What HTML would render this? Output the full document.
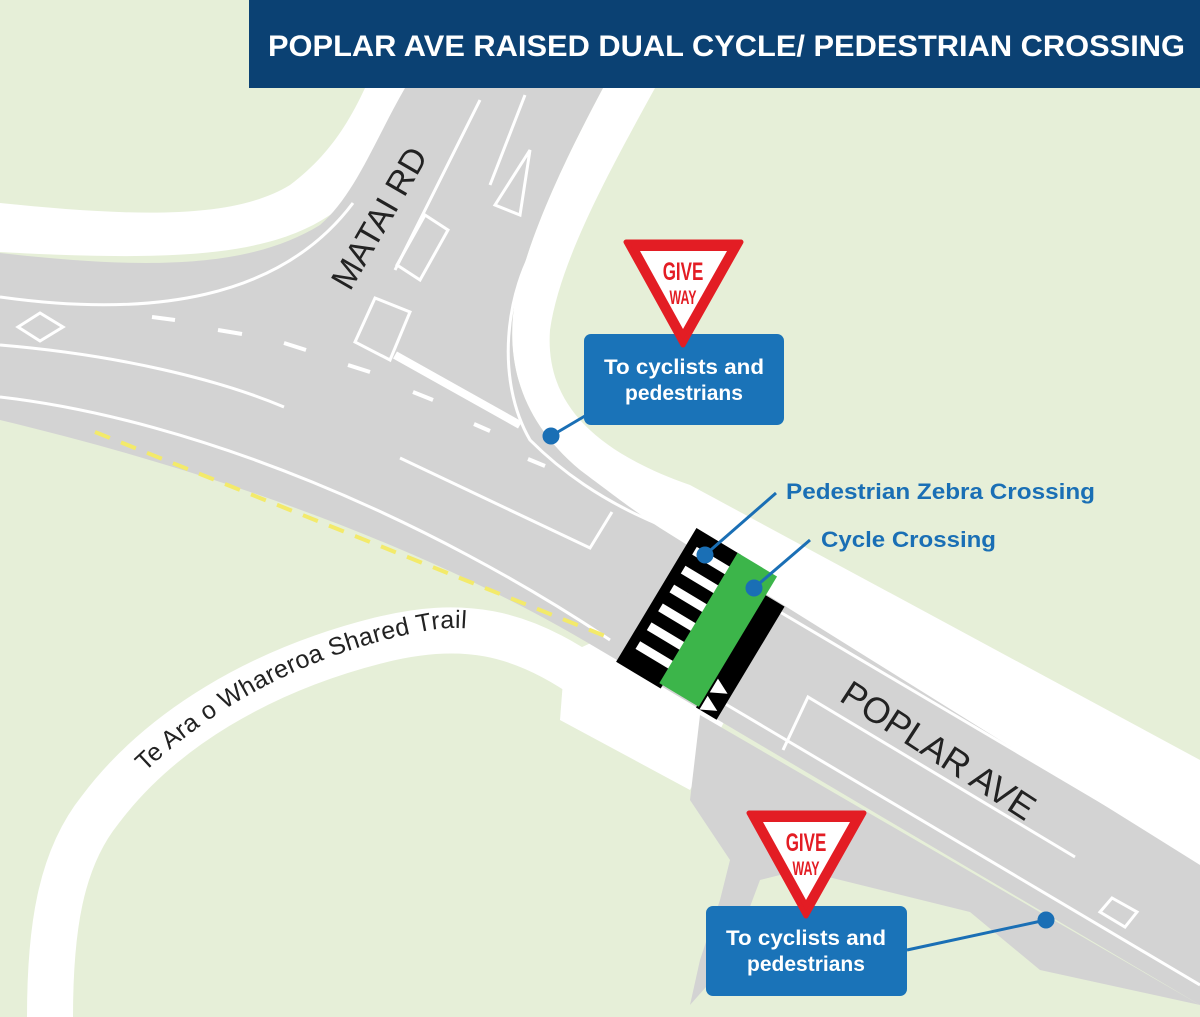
<!DOCTYPE html>
<html><head><meta charset="utf-8"><style>
html,body{margin:0;padding:0;width:1200px;height:1017px;overflow:hidden;background:#e6efd8}
svg{display:block}
</style></head><body>
<svg width="1200" height="1017" viewBox="0 0 1200 1017" xmlns="http://www.w3.org/2000/svg" font-family="Liberation Sans, sans-serif">
<rect width="1200" height="1017" fill="#e6efd8"/>
<path d="M0,203 C120,215 230,222 290,185 C330,155 350,120 365,88 L405,88 C390,140 370,190 330,215 C270,255 180,262 0,252 Z" fill="#fff"/>
<path d="M603,88 L655,88 C610,170 560,260 550,330 C545,400 590,450 690,485 L1200,760 L1200,870 L660,528 C640,515 610,495 580,470 C520,420 505,360 515,300 C530,230 570,150 603,88 Z" fill="#fff"/>
<path d="M50,1017 C50,930 60,860 100,810 C160,730 260,670 380,640 C460,620 520,630 590,680" fill="none" stroke="#fff" stroke-width="46"/>
<path d="M565,655 L640,620 L740,690 L690,790 L560,720 Z" fill="#fff"/>
<path d="M700,715 L1200,1005 L1040,970 L970,912 L800,870 L760,880 L730,960 L690,1005 L700,960 L720,900 L730,860 L690,800 Z" fill="#d3d3d3"/>
<path d="M0,253 C150,270 250,268 320,225 C355,195 375,140 405,88 L603,88 C570,150 530,230 515,300 C505,360 520,420 580,470 C620,500 640,515 660,528 L640,660 L600,650 C450,560 250,480 0,420 Z" fill="#d3d3d3"/>
<path d="M660,528 L1200,865 L1200,1005 L600,650 Z" fill="#d3d3d3"/>
<g fill="none" stroke="#fff" stroke-width="3">
<path d="M0,297 C150,318 280,300 353,203"/>
<path d="M0,345 C120,355 220,380 284,407"/>
<path d="M0,397 C200,420 430,520 610,640"/>
<path d="M400,458 L590,548 L612,512"/>
<path d="M540,238 C505,290 495,380 530,440 C560,470 600,500 660,525"/>
<path d="M780,612 L1200,860"/>
<path d="M722,702 L1200,985"/>
<path d="M783,750 L808,697 L1075,857"/>
<path d="M18,327 L40,313 L63,327 L40,341 Z"/>
<path d="M1100,912 L1112,898 L1137,912 L1125,927 Z"/>
<path d="M355,342 L375,298 L410,312 L390,360 Z"/>
<path d="M397,265 L425,215 L448,230 L420,280 Z"/>
<path d="M395,270 L480,100 M490,185 L525,95"/>
<path d="M495,205 L530,150 L520,215 Z"/>
</g>
<path d="M395,355 L520,425" stroke="#fff" stroke-width="8"/>
<g stroke="#fff" stroke-width="4">
<path d="M152,317 L175,320 M218,330 L242,334 M284,343 L306,350 M348,365 L370,372 M413,392 L433,400 M474,424 L490,431 M528,459 L545,466"/>
</g>
<path d="M95,432 L610,638" stroke="#f3ea6a" stroke-width="4" stroke-dasharray="16,12"/>
<g transform="translate(718,632) rotate(31)">
<rect x="-72" y="-78" width="52" height="156" fill="#000"/>
<g fill="#fff">
<rect x="-62" y="-62" width="42" height="9"/><rect x="-62" y="-40" width="42" height="9"/><rect x="-62" y="-18" width="42" height="9"/><rect x="-62" y="4" width="42" height="9"/><rect x="-62" y="26" width="42" height="9"/><rect x="-62" y="48" width="42" height="9"/>
</g>
<rect x="20" y="-56" width="24" height="132" fill="#000"/>
<path d="M24,40 L40,48 L24,56 Z M24,60 L40,68 L24,76 Z" fill="#fff"/>
<rect x="-24" y="-78" width="46" height="152" fill="#3cb54a"/>
</g>
<path id="tp" d="M145,772 C220,700 320,650 430,630 C455,626 475,628 500,634" fill="none"/>
<text font-size="25" fill="#222" letter-spacing="0.3"><textPath href="#tp">Te Ara o Whareroa Shared Trail</textPath></text>
<text x="0" y="0" font-size="34" fill="#222" transform="translate(350,292) rotate(-60)">MATAI RD</text>
<text x="0" y="0" font-size="36" fill="#222" transform="translate(838,700) rotate(33)">POPLAR AVE</text>
<g stroke="#1a6fb5" stroke-width="3" fill="#1a6fb5">
<line x1="590" y1="413" x2="551" y2="436"/><circle cx="551" cy="436" r="7"/>
<line x1="907" y1="950" x2="1046" y2="920"/><circle cx="1046" cy="920" r="7"/>
<line x1="776" y1="493" x2="705" y2="555"/><circle cx="705" cy="555" r="7"/>
<line x1="810" y1="540" x2="754" y2="588"/><circle cx="754" cy="588" r="7"/>
</g>
<rect x="584" y="334" width="200" height="91" rx="7" fill="#1a73b8"/>
<text x="604" y="374" font-size="21" font-weight="bold" fill="#fff" textLength="160" lengthAdjust="spacingAndGlyphs">To cyclists and</text>
<text x="684" y="400" font-size="21" font-weight="bold" fill="#fff" text-anchor="middle">pedestrians</text>
<rect x="706" y="906" width="201" height="90" rx="7" fill="#1a73b8"/>
<text x="726" y="945" font-size="21" font-weight="bold" fill="#fff" textLength="160" lengthAdjust="spacingAndGlyphs">To cyclists and</text>
<text x="806" y="971" font-size="21" font-weight="bold" fill="#fff" text-anchor="middle">pedestrians</text>
<g>
<path d="M626,242 L741,242 L683,345 Z" fill="#e31d24" stroke="#e31d24" stroke-width="5" stroke-linejoin="round"/>
<path d="M640,251 L727,251 L683,329 Z" fill="#fff"/>
<text x="0" y="0" font-size="25" font-weight="bold" fill="#e31d24" text-anchor="middle" transform="translate(683,280) scale(0.68,1)">GIVE</text>
<text x="0" y="0" font-size="19" font-weight="bold" fill="#e31d24" text-anchor="middle" transform="translate(683,304) scale(0.65,1)">WAY</text>
</g>
<g transform="translate(123,571)">
<path d="M626,242 L741,242 L683,345 Z" fill="#e31d24" stroke="#e31d24" stroke-width="5" stroke-linejoin="round"/>
<path d="M640,251 L727,251 L683,329 Z" fill="#fff"/>
<text x="0" y="0" font-size="25" font-weight="bold" fill="#e31d24" text-anchor="middle" transform="translate(683,280) scale(0.68,1)">GIVE</text>
<text x="0" y="0" font-size="19" font-weight="bold" fill="#e31d24" text-anchor="middle" transform="translate(683,304) scale(0.65,1)">WAY</text>
</g>
<text x="786" y="499" font-size="22" font-weight="bold" fill="#1a6fb5" textLength="309" lengthAdjust="spacingAndGlyphs">Pedestrian Zebra Crossing</text>
<text x="821" y="547" font-size="22" font-weight="bold" fill="#1a6fb5" textLength="175" lengthAdjust="spacingAndGlyphs">Cycle Crossing</text>
<rect x="249" y="0" width="951" height="88" fill="#0b4173"/>
<text x="268" y="56" font-size="30" font-weight="bold" fill="#fff" textLength="917" lengthAdjust="spacingAndGlyphs">POPLAR AVE RAISED DUAL CYCLE/ PEDESTRIAN CROSSING</text>
</svg>
</body></html>
